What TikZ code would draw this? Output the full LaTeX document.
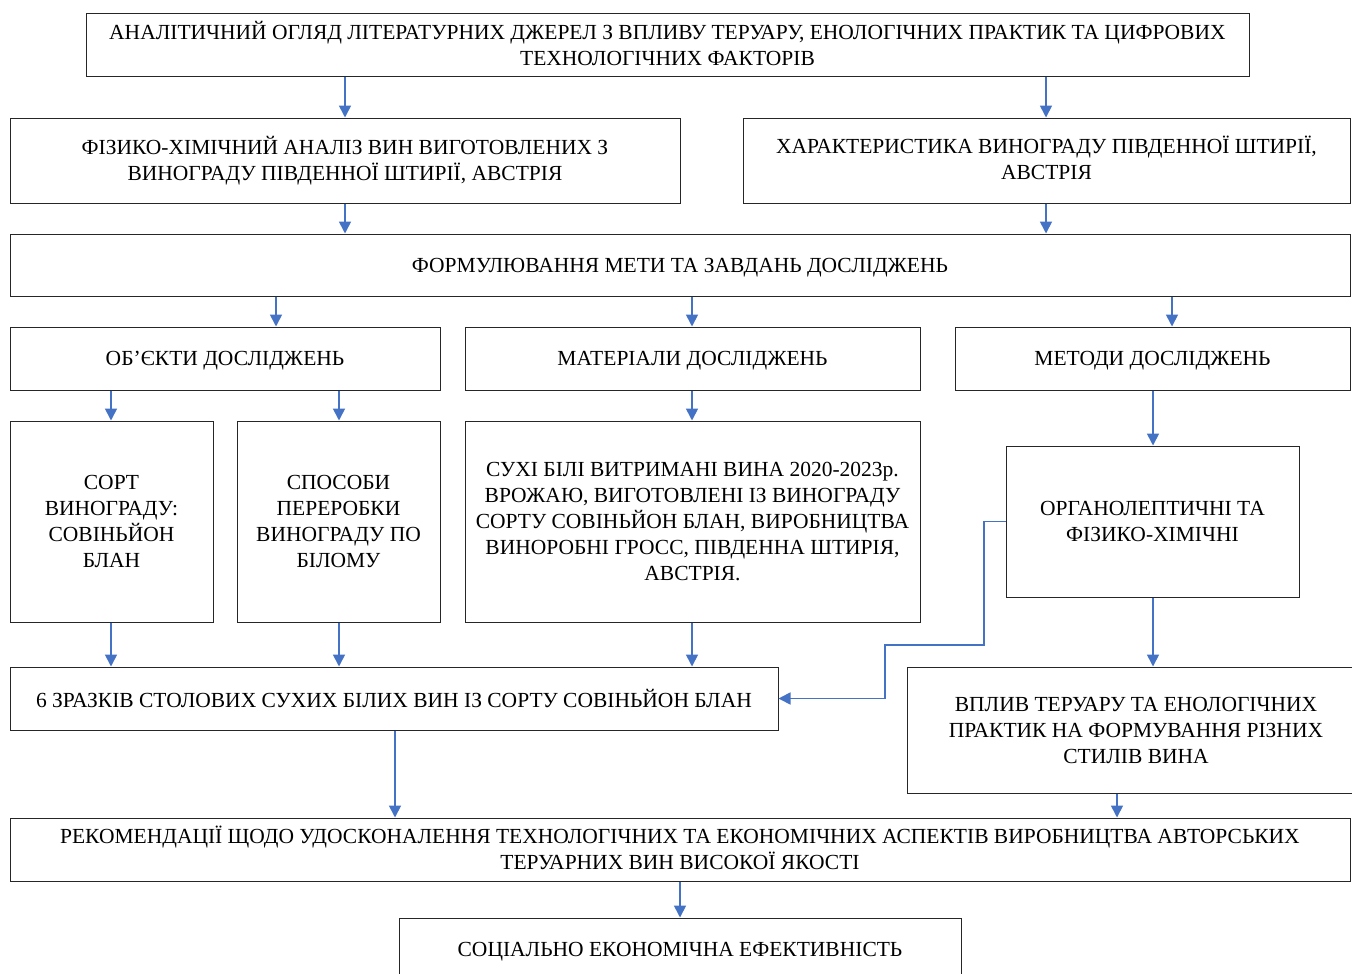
\documentclass[tikz,border=0pt]{standalone}
\usepackage{fontspec}
\setmainfont{Liberation Serif}
\usetikzlibrary{arrows.meta}
\definecolor{arrblue}{HTML}{4472C4}
\tikzset{
  bx/.style={draw=black!85, line width=1pt, inner sep=0pt, align=center,
    font=\fontsize{21.5}{26}\selectfont},
  arr/.style={draw=arrblue, line width=1.7pt, -{Triangle[width=12pt,length=12pt]}},
}
\newcommand{\bxnode}[7][]{% [text shift], name, x1, y1, x2, y2, text
  \node[bx, minimum width={#5pt-#3pt}, minimum height={#6pt-#4pt}] (#2) at ({(#3+#5)/2},{(#4+#6)/2}) {};
  \node[inner sep=0pt, align=center, font=\fontsize{21.5}{26}\selectfont] at ([yshift={0pt-(#1pt)}]#2.center) {#7};}
\begin{document}
\begin{tikzpicture}[x=1pt,y=-1pt]
\useasboundingbox (0,0) rectangle (1352,974);
\fill[white] (0,0) rectangle (1352,974);
\bxnode[-2]{b1}{86}{14}{1249}{77}{АНАЛІТИЧНИЙ ОГЛЯД ЛІТЕРАТУРНИХ ДЖЕРЕЛ З ВПЛИВУ ТЕРУАРУ, ЕНОЛОГІЧНИХ ПРАКТИК ТА ЦИФРОВИХ\\ТЕХНОЛОГІЧНИХ ФАКТОРІВ}
\bxnode[0]{b2}{10}{118}{680}{203}{ФІЗИКО-ХІМІЧНИЙ АНАЛІЗ ВИН ВИГОТОВЛЕНИХ З\\ВИНОГРАДУ ПІВДЕННОЇ ШТИРІЇ, АВСТРІЯ}
\bxnode[-2.5]{b3}{743}{118}{1350}{203}{ХАРАКТЕРИСТИКА ВИНОГРАДУ ПІВДЕННОЇ ШТИРІЇ,\\АВСТРІЯ}
\bxnode[3]{b4}{10}{234}{1350}{296}{ФОРМУЛЮВАННЯ МЕТИ ТА ЗАВДАНЬ ДОСЛІДЖЕНЬ}
\bxnode[2]{b5}{10}{327}{440}{390}{ОБ’ЄКТИ ДОСЛІДЖЕНЬ}
\bxnode[2]{b6}{465}{327}{920}{390}{МАТЕРІАЛИ ДОСЛІДЖЕНЬ}
\bxnode[2]{b7}{955}{327}{1350}{390}{МЕТОДИ ДОСЛІДЖЕНЬ}
\bxnode[0]{b8}{10}{421}{213}{622}{СОРТ\\ВИНОГРАДУ:\\СОВІНЬЙОН\\БЛАН}
\bxnode[0]{b9}{237}{421}{440}{622}{СПОСОБИ\\ПЕРЕРОБКИ\\ВИНОГРАДУ ПО\\БІЛОМУ}
\bxnode[0]{b10}{465}{421}{920}{622}{СУХІ БІЛІ ВИТРИМАНІ ВИНА 2020-2023р.\\ВРОЖАЮ, ВИГОТОВЛЕНІ ІЗ ВИНОГРАДУ\\СОРТУ СОВІНЬЙОН БЛАН, ВИРОБНИЦТВА\\ВИНОРОБНІ ГРОСС, ПІВДЕННА ШТИРІЯ,\\АВСТРІЯ.}
\bxnode[0]{b11}{1006}{446}{1299}{597}{ОРГАНОЛЕПТИЧНІ ТА\\ФІЗИКО-ХІМІЧНІ}
\bxnode[-0.5]{b12}{10}{667}{778}{730}{6 ЗРАЗКІВ СТОЛОВИХ СУХИХ БІЛИХ ВИН ІЗ СОРТУ СОВІНЬЙОН БЛАН}
\bxnode[0]{b13}{907}{667}{1365}{793}{ВПЛИВ ТЕРУАРУ ТА ЕНОЛОГІЧНИХ\\ПРАКТИК НА ФОРМУВАННЯ РІЗНИХ\\СТИЛІВ ВИНА}
\bxnode[-1.5]{b14}{10}{818}{1350}{881}{РЕКОМЕНДАЦІЇ ЩОДО УДОСКОНАЛЕННЯ ТЕХНОЛОГІЧНИХ ТА ЕКОНОМІЧНИХ АСПЕКТІВ ВИРОБНИЦТВА АВТОРСЬКИХ\\ТЕРУАРНИХ ВИН ВИСОКОЇ ЯКОСТІ}
\bxnode[2]{b15}{399}{918}{961}{982}{СОЦІАЛЬНО ЕКОНОМІЧНА ЕФЕКТИВНІСТЬ}
% connectors
\draw[arr] (b1.south -| 345,0) -- (b2.north -| 345,0);
\draw[arr] (b1.south -| 1046,0) -- (b3.north -| 1046,0);
\draw[arr] (b2.south -| 345,0) -- (b4.north -| 345,0);
\draw[arr] (b3.south -| 1046,0) -- (b4.north -| 1046,0);
\draw[arr] (b4.south -| 276,0) -- (b5.north -| 276,0);
\draw[arr] (b4.south -| 692,0) -- (b6.north -| 692,0);
\draw[arr] (b4.south -| 1172,0) -- (b7.north -| 1172,0);
\draw[arr] (b5.south -| 111,0) -- (b8.north -| 111,0);
\draw[arr] (b5.south -| 339,0) -- (b9.north -| 339,0);
\draw[arr] (b6.south -| 692,0) -- (b10.north -| 692,0);
\draw[arr] (b7.south -| 1153,0) -- (b11.north -| 1153,0);
\draw[arr] (b8.south -| 111,0) -- (b12.north -| 111,0);
\draw[arr] (b9.south -| 339,0) -- (b12.north -| 339,0);
\draw[arr] (b10.south -| 692,0) -- (b12.north -| 692,0);
\draw[arr] (b11.south -| 1153,0) -- (b13.north -| 1153,0);
\draw[arr] (b11.west) -- (984,521.5) -- (984,645) -- (885,645) -- (885,698.5) -- (b12.east);
\draw[arr] (b12.south -| 395,0) -- (b14.north -| 395,0);
\draw[arr] (b13.south -| 1117,0) -- (b14.north -| 1117,0);
\draw[arr] (b14.south -| 680,0) -- (b15.north -| 680,0);
\end{tikzpicture}
\end{document}
